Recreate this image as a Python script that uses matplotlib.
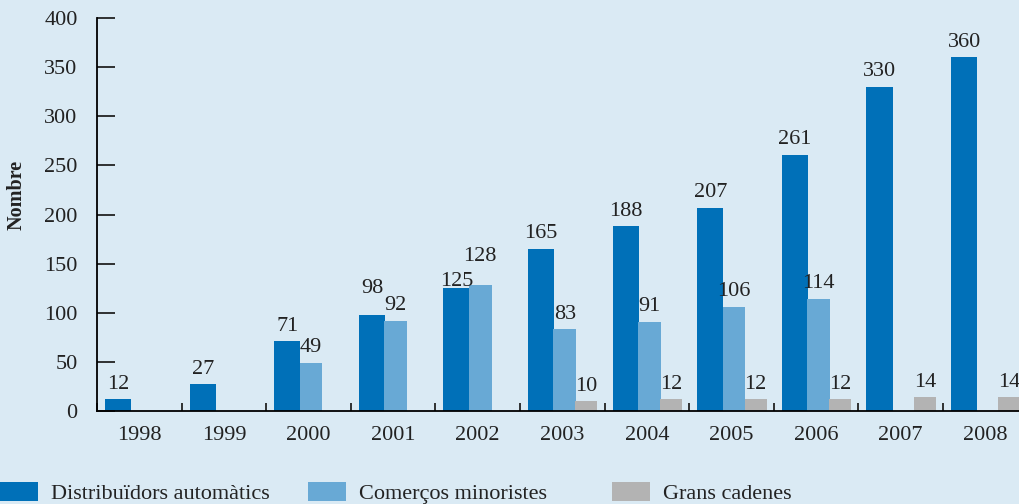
import matplotlib
matplotlib.use('Agg')
import matplotlib.pyplot as plt
import numpy as np

years = ['1998', '1999', '2000', '2001', '2002', '2003', '2004', '2005', '2006', '2007', '2008']
distribuidors = [12, 27, 71, 98, 125, 165, 188, 207, 261, 330, 360]
comercos = [None, None, 49, 92, 128, 83, 91, 106, 114, None, None]
grans = [None, None, None, None, None, 10, 12, 12, 12, 14, 14]

labels = ['Distribuïdors automàtics', 'Comerços minoristes', 'Grans cadenes']
colors = ['#0070b8', '#68a9d5', '#b3b3b3']
bg = '#daeaf4'
ink = '#222222'

plt.rcParams['font.family'] = ['Liberation Serif', 'DejaVu Serif']

fig = plt.figure(figsize=(10.2, 5.04), dpi=100, facecolor=bg)
ax = fig.add_axes([97 / 1020, 93 / 504, 923 / 1020, 393 / 504], facecolor=bg)

x = np.arange(len(years))
series = [
    (distribuidors, -0.25, 0.31),
    (comercos, 0.03, 0.27),
    (grans, 0.285, 0.26),
]
handles = []
for k, ((vals, off, w), col, lab) in enumerate(zip(series, colors, labels)):
    idx = [i for i, v in enumerate(vals) if v is not None]
    xs = [x[i] + off for i in idx]
    vs = [vals[i] for i in idx]
    b = ax.bar(xs, vs, width=w, color=col, label=lab)
    handles.append(b)
    for i, xi, v in zip(idx, xs, vs):
        dy = 4
        c = comercos[i]
        # keep neighbouring blue / light-blue labels apart
        if k == 1 and v > distribuidors[i]:
            dy = 14
        if k == 0 and c is not None and c > v:
            dy = -2
        if k == 0 and c is not None and 0 < v - c < 12:
            dy = 12
        ax.annotate(str(v), (xi, v), xytext=(0, dy), textcoords='offset points',
                    ha='center', va='bottom', fontsize=16, color=ink)

ax.set_xlim(-0.5, 10.41)
ax.set_ylim(0, 400)
ax.set_yticks(range(0, 401, 50))
ax.tick_params(axis='y', direction='in', length=13, width=1.3, labelsize=16, pad=14,
               colors=ink)

ax.set_xticks(np.arange(-0.5, 10.5, 1))
ax.set_xticklabels([])
ax.tick_params(axis='x', direction='in', length=6, width=1.3, colors=ink)
ax.set_xticks(x, minor=True)
ax.set_xticklabels(years, minor=True, fontsize=16, color=ink)
ax.tick_params(axis='x', which='minor', length=0, pad=11)

for s in ['top', 'right']:
    ax.spines[s].set_visible(False)
ax.spines['left'].set_bounds(0, 400)
ax.spines['left'].set_linewidth(1.3)
ax.spines['bottom'].set_linewidth(1.3)

fig.text(17 / 1020, 1 - 195 / 504, 'Nombre', rotation=90, ha='center', va='center',
         fontsize=14.5, fontweight='bold', color=ink)

legend_x = [0 / 1020, 308 / 1020, 612 / 1020]
for h, lx in zip(handles, legend_x):
    leg = fig.legend([h], [h.get_label()], loc='center left', bbox_to_anchor=(lx, 1 - 493 / 504),
                     frameon=False, fontsize=16, handlelength=1.7, handleheight=0.95,
                     handletextpad=0.6, borderpad=0, borderaxespad=0)
    for t in leg.get_texts():
        t.set_color(ink)

fig.savefig('out.png', dpi=100, facecolor=bg)
